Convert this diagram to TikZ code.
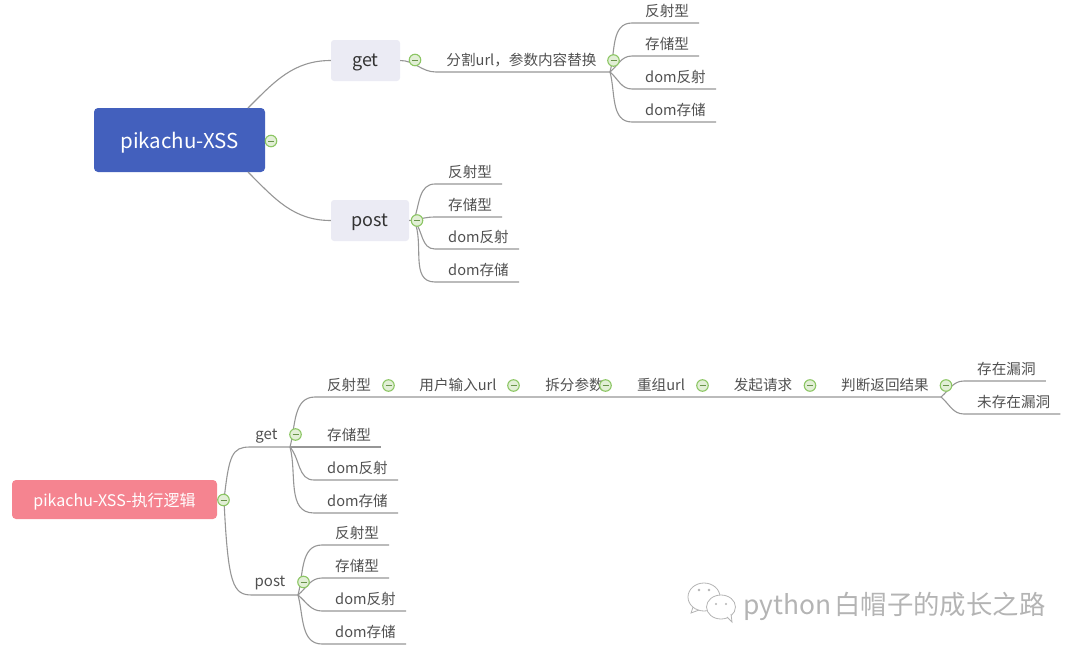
\documentclass[tikz,border=0pt]{standalone}
\usepackage{fontspec}
\setmainfont{Noto Sans CJK SC}
\definecolor{root-blue}{HTML}{4360BD}
\definecolor{root-pink}{HTML}{F58490}
\definecolor{topic-grey}{HTML}{EBEBF4}
\definecolor{line-grey}{HTML}{969696}
\definecolor{text-grey}{HTML}{505050}
\definecolor{toggle-green}{HTML}{8CC664}
\definecolor{toggle-fill}{HTML}{E2EFD6}
\definecolor{mark-grey}{HTML}{B4B4B4}
\tikzset{
  rootbox/.style={draw=none, rounded corners=4pt, text=white, inner sep=0pt},
  topicbox/.style={fill=topic-grey, rounded corners=3pt, text=black!80, font=\fontsize{18pt}{20pt}\selectfont, inner sep=0pt, text height=15pt, text depth=3pt},
  leaf/.style={anchor=south west, inner sep=0pt, text=text-grey, text height=14pt, text depth=6pt,
    font=\fontsize{14.6pt}{16pt}\selectfont,
    execute at begin node=\hspace*{13pt}, execute at end node=\hspace*{10pt}},
  stepnote/.style={inner sep=0pt, text=text-grey, font=\fontsize{14.6pt}{16pt}\selectfont},
  subtopic/.style={inner sep=0pt, text=text-grey, font=\fontsize{15pt}{17pt}\selectfont, text height=13pt, text depth=2pt},
  branch/.style={draw=line-grey, line width=1.1pt},
  toggle/.style={circle, draw=toggle-green, fill=toggle-fill, line width=1.1pt, minimum size=11.5pt, inner sep=0pt,
    path picture={\draw[toggle-green!75!black, line width=1pt] (-3pt,0) -- (3pt,0);}},
}
\begin{document}
\begin{tikzpicture}[x=1pt, y=-1pt]
  \useasboundingbox (0,0) rectangle (1080,654);

  % upper map
  \node[rootbox, fill=root-blue, minimum width=171pt, minimum height=64pt, text height=20pt, text depth=4pt, font=\fontsize{20.5pt}{24pt}\selectfont] (xss) at (179.5,140) {pikachu-XSS};
  \node[topicbox, minimum width=69pt, minimum height=41pt] (get) at (365.5,60.5) {get};
  \node[topicbox, minimum width=78pt, minimum height=41pt] (post) at (370,220.5) {post};
  \coordinate (xssup) at (248,108);
  \coordinate (xssdown) at (248,172);
  \draw[branch] (xssup) to[out=45,in=180] (get.west);
  \draw[branch] (xssdown) to[out=-45,in=180] (post.west);

  \coordinate (splithub) at (610,72);
  \node[stepnote] (split) at (521.5,60) {分割url，参数内容替换};
  \coordinate (splitstart) at (436,72);
  \draw[branch] (get.east) to[out=0,in=180] (splitstart) -- (splithub);

  \node[leaf] (getrefl) at (632,23) {反射型};
  \node[leaf] (getstore) at (632,56) {存储型};
  \node[leaf] (getdomrefl) at (632,89) {dom反射};
  \node[leaf] (getdomstore) at (632,122) {dom存储};
  \draw[branch] (splithub) to[out=75,in=180] (getrefl.south west) -- (getrefl.south east);
  \draw[branch] (splithub) to[out=40,in=180] (getstore.south west) -- (getstore.south east);
  \draw[branch] (splithub) to[out=-40,in=180] (getdomrefl.south west) -- (getdomrefl.south east);
  \draw[branch] (splithub) to[out=-75,in=180] (getdomstore.south west) -- (getdomstore.south east);

  \coordinate (posthub) at (414,220);
  \node[leaf] (postrefl) at (435,184) {反射型};
  \node[leaf] (poststore) at (435,217) {存储型};
  \node[leaf] (postdomrefl) at (435,249) {dom反射};
  \node[leaf] (postdomstore) at (435,282) {dom存储};
  \draw[branch] (post.east) -- (posthub);
  \draw[branch] (posthub) to[out=70,in=180] (postrefl.south west) -- (postrefl.south east);
  \draw[branch] (posthub) to[out=10,in=180] (poststore.south west) -- (poststore.south east);
  \draw[branch] (posthub) to[out=-50,in=180] (postdomrefl.south west) -- (postdomrefl.south east);
  \draw[branch] (posthub) to[out=-65,in=180] (postdomstore.south west) -- (postdomstore.south east);

  % lower map
  \node[rootbox, fill=root-pink, minimum width=205pt, minimum height=39pt, text height=17pt, text depth=4pt, font=\fontsize{16pt}{18pt}\selectfont] (logic) at (114.5,499.5) {pikachu-XSS-执行逻辑};
  \coordinate (logichub) at (224,500);
  \coordinate (lowgethub) at (290,447);
  \coordinate (lowposthub) at (298,595);
  \coordinate (lowgetbend) at (250,447);
  \coordinate (lowpostbend) at (252,595);
  \node[subtopic] (lowget) at (266.5,434) {get};
  \node[subtopic] (lowpost) at (270,581) {post};
  \draw[branch] (logic.east) -- (logichub);
  \draw[branch] (logichub) .. controls (229,455) and (232,447) .. (lowgetbend) -- (lowgethub);
  \draw[branch] (logichub) .. controls (228,585) and (233,595) .. (lowpostbend) -- (lowposthub);

  \node[stepnote] (lowrefl) at (349,384.5) {反射型};
  \node[stepnote] (urlinput) at (458,384.5) {用户输入url};
  \node[stepnote] (splitarg) at (574.5,384.5) {拆分参数};
  \node[stepnote] (rebuild) at (661,384.5) {重组url};
  \node[stepnote] (sendreq) at (763,384.5) {发起请求};
  \node[stepnote] (judge) at (885,384.5) {判断返回结果};
  \coordinate (chainstart) at (315,397);
  \coordinate (judgehub) at (941,397);
  \draw[branch] (lowgethub) to[out=75,in=180] (chainstart) -- (judgehub);

  \node[leaf] (vulnyes) at (964,381) {存在漏洞};
  \node[leaf] (vulnno) at (964,414) {未存在漏洞};
  \draw[branch] (judgehub) to[out=40,in=180] (vulnyes.south west) -- (vulnyes.south east);
  \draw[branch] (judgehub) to[out=-40,in=180] (vulnno.south west) -- (vulnno.south east);

  \node[leaf] (lowstore) at (314,447) {存储型};
  \node[leaf] (lowdomrefl) at (314,480) {dom反射};
  \node[leaf] (lowdomstore) at (314,513) {dom存储};
  \draw[branch] (lowgethub) -- (lowstore.south west) -- (lowstore.south east);
  \draw[branch] (lowgethub) to[out=-50,in=180] (lowdomrefl.south west) -- (lowdomrefl.south east);
  \draw[branch] (lowgethub) to[out=-75,in=180] (lowdomstore.south west) -- (lowdomstore.south east);

  \node[leaf] (plowrefl) at (322,545) {反射型};
  \node[leaf] (plowstore) at (322,578) {存储型};
  \node[leaf] (plowdomrefl) at (322,611) {dom反射};
  \node[leaf] (plowdomstore) at (322,644) {dom存储};
  \draw[branch] (lowposthub) to[out=75,in=180] (plowrefl.south west) -- (plowrefl.south east);
  \draw[branch] (lowposthub) to[out=40,in=180] (plowstore.south west) -- (plowstore.south east);
  \draw[branch] (lowposthub) to[out=-40,in=180] (plowdomrefl.south west) -- (plowdomrefl.south east);
  \draw[branch] (lowposthub) to[out=-75,in=180] (plowdomstore.south west) -- (plowdomstore.south east);

  % collapse marks
  \node[toggle] (tgxss) at (271,141) {};
  \node[toggle] (tgget) at (415,60) {};
  \node[toggle] (tgsplit) at (613.5,60.5) {};
  \node[toggle] (tgpost) at (417,220.5) {};
  \node[toggle] (tglogic) at (223.5,500) {};
  \node[toggle] (tglowget) at (295.5,434.5) {};
  \node[toggle] (tglowpost) at (303.5,582) {};
  \node[toggle] (tgrefl) at (388.5,385.5) {};
  \node[toggle] (tginput) at (513.5,385.5) {};
  \node[toggle] (tgarg) at (605.5,385.5) {};
  \node[toggle] (tgbuild) at (702.5,385.5) {};
  \node[toggle] (tgsend) at (810,385.5) {};
  \node[toggle] (tgjudge) at (946,385.5) {};

  % watermark
  \draw[mark-grey, fill=white, line width=0.8pt] (704,597) ellipse (16 and 14);
  \draw[mark-grey, line width=0.8pt] (693,607) -- (691,613) -- (699,610);
  \draw[mark-grey, fill=white, line width=0.8pt] (721,607) ellipse (14.5 and 12);
  \draw[mark-grey, fill=white, line width=0.8pt] (727,617) -- (732,622) -- (731,614);
  \fill[mark-grey] (699,590) circle (1.3) (709,590) circle (1.3) (716,604) circle (1.2) (726,604) circle (1.2);
  \node[inner sep=0pt, text=mark-grey, anchor=west, font=\fontsize{26.4pt}{28pt}\selectfont] (mark) at (743,606) {python\hspace{3pt}白帽子的成长之路};
\end{tikzpicture}
\end{document}
